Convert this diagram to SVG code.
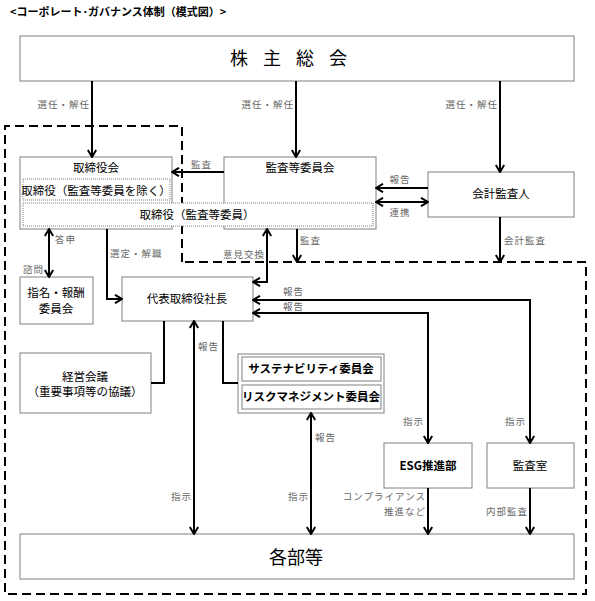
<svg xmlns="http://www.w3.org/2000/svg" width="595" height="601" viewBox="0 0 595 601">
<style>
text{font-family:"Noto Sans CJK JP","Noto Sans",sans-serif;}
.box{fill:#fff;stroke:#808080;stroke-width:1;}
.dot{fill:none;stroke:#808080;stroke-width:1;stroke-dasharray:1,1;}
.node{font-size:11.5px;fill:#000;text-anchor:middle;}
.bold{font-weight:bold;}
.big{font-size:18px;fill:#000;text-anchor:middle;}
.lbl{font-size:9.5px;fill:#666;letter-spacing:1px;}
.c{fill:none;stroke:#000;stroke-width:2;}
.dash{fill:none;stroke:#000;stroke-width:2;stroke-dasharray:9,5;}
</style>
<defs>
<marker id="a" viewBox="0 0 10 10" refX="9" refY="5" markerWidth="10" markerHeight="10" orient="auto-start-reverse" markerUnits="userSpaceOnUse">
<path d="M2,0.8 L9,5 L2,9.2" fill="none" stroke="#000" stroke-width="2"/>
</marker>
</defs>
<rect width="595" height="601" fill="#fff"/>
<text x="10" y="16" font-size="11" font-weight="bold" fill="#000">&lt;コーポレート･ガバナンス体制（模式図）&gt;</text>

<path class="dash" d="M182,262 V126 H5 V594 H586 V262 H182"/>

<g id="shareholders">
<rect class="box" x="20" y="36" width="554" height="45"/>
<text class="big" x="296" y="65" letter-spacing="15">株主総会</text>
</g>
<g id="board">
<rect class="box" x="20" y="157" width="152" height="72"/>
<text class="node" x="96" y="172">取締役会</text>
<rect class="dot" x="23" y="179" width="147" height="21"/>
<text class="node" x="96" y="195" font-size="11">取締役（監査等委員を除く）</text>
</g>
<g id="audit-committee">
<rect class="box" x="224" y="157" width="152" height="72"/>
<text class="node" x="300" y="172">監査等委員会</text>
</g>
<g id="board-audit-members">
<rect x="23" y="203" width="350" height="23" fill="#fff"/>
<rect class="dot" x="23" y="203" width="350" height="23"/>
<text class="node" x="197" y="219">取締役（監査等委員）</text>
</g>
<g id="accounting-auditor">
<rect class="box" x="428" y="172" width="146" height="45"/>
<text class="node" x="501" y="198">会計監査人</text>
</g>
<g id="nomination">
<rect class="box" x="20" y="277" width="73" height="47"/>
<text class="node" x="56" y="297">指名・報酬</text>
<text class="node" x="56" y="313">委員会</text>
</g>
<g id="president">
<rect class="box" x="122" y="277" width="131" height="44"/>
<text class="node" x="187" y="303">代表取締役社長</text>
</g>
<g id="management-meeting">
<rect class="box" x="20" y="353" width="131" height="60"/>
<text class="node" x="85" y="381">経営会議</text>
<text class="node" x="85" y="396">（重要事項等の協議）</text>
</g>
<g id="committees">
<rect class="box" x="238" y="354" width="146" height="59"/>
<rect class="box" x="242" y="357" width="139" height="24"/>
<text class="node bold" x="311" y="373" font-size="11">サステナビリティ委員会</text>
<rect class="box" x="242" y="385" width="139" height="24"/>
<text class="node bold" x="311" y="401" font-size="11">リスクマネジメント委員会</text>
</g>
<g id="esg">
<rect class="box" x="384" y="443" width="88" height="45"/>
<text class="node bold" x="428" y="470">ESG推進部</text>
</g>
<g id="audit-office">
<rect class="box" x="487" y="443" width="87" height="45"/>
<text class="node" x="530" y="470">監査室</text>
</g>
<g id="departments">
<rect class="box" x="20" y="534" width="554" height="45"/>
<text class="big" x="296" y="564">各部等</text>
</g>

<g id="connectors">
<path class="c" d="M92,81 V157" marker-end="url(#a)"/>
<path class="c" d="M296,81 V157" marker-end="url(#a)"/>
<path class="c" d="M500,81 V172" marker-end="url(#a)"/>
<path class="c" d="M224,172 H172" marker-end="url(#a)"/>
<path class="c" d="M428,188 H376" marker-end="url(#a)"/>
<path class="c" d="M376,202 H428" marker-start="url(#a)" marker-end="url(#a)"/>
<path class="c" d="M500,217 V262" marker-end="url(#a)"/>
<path class="c" d="M297,229 V262" marker-end="url(#a)"/>
<path class="c" d="M267,229 V282 H253" marker-start="url(#a)" marker-end="url(#a)"/>
<path class="c" d="M107,229 V299 H122" marker-end="url(#a)"/>
<path class="c" d="M49,229 V277" marker-start="url(#a)" marker-end="url(#a)"/>
<path class="c" d="M253,300 H530 V443" marker-start="url(#a)" marker-end="url(#a)"/>
<path class="c" d="M253,313 H428 V443" marker-start="url(#a)" marker-end="url(#a)"/>
<path class="c" d="M428,488 V534" marker-end="url(#a)"/>
<path class="c" d="M530,488 V534" marker-end="url(#a)"/>
<path class="c" d="M164,321 V383 H151"/>
<path class="c" d="M223,321 V383 H238"/>
<path class="c" d="M194,321 V534" marker-start="url(#a)" marker-end="url(#a)"/>
<path class="c" d="M311,413 V534" marker-start="url(#a)" marker-end="url(#a)"/>

<text class="lbl" x="90" y="108" text-anchor="end">選任・解任</text>
<text class="lbl" x="294" y="108" text-anchor="end">選任・解任</text>
<text class="lbl" x="498" y="108" text-anchor="end">選任・解任</text>
<text class="lbl" x="191" y="168">監査</text>
<text class="lbl" x="400" y="183" text-anchor="middle">報告</text>
<text class="lbl" x="400" y="216" text-anchor="middle">連携</text>
<text class="lbl" x="504" y="244">会計監査</text>
<text class="lbl" x="300" y="244">監査</text>
<text class="lbl" x="265" y="258" text-anchor="end">意見交換</text>
<text class="lbl" x="110" y="257">選定・解職</text>
<text class="lbl" x="55" y="243">答申</text>
<text class="lbl" x="23" y="273">諮問</text>
<text class="lbl" x="283" y="295">報告</text>
<text class="lbl" x="283" y="310">報告</text>
<text class="lbl" x="198" y="350">報告</text>
<text class="lbl" x="315" y="441">報告</text>
<text class="lbl" x="424" y="425" text-anchor="end">指示</text>
<text class="lbl" x="526" y="425" text-anchor="end">指示</text>
<text class="lbl" x="192" y="500" text-anchor="end">指示</text>
<text class="lbl" x="309" y="500" text-anchor="end">指示</text>
<text class="lbl" x="426" y="500" text-anchor="end">コンプライアンス</text>
<text class="lbl" x="426" y="515" text-anchor="end">推進など</text>
<text class="lbl" x="528" y="515" text-anchor="end">内部監査</text>
</g>
</svg>
